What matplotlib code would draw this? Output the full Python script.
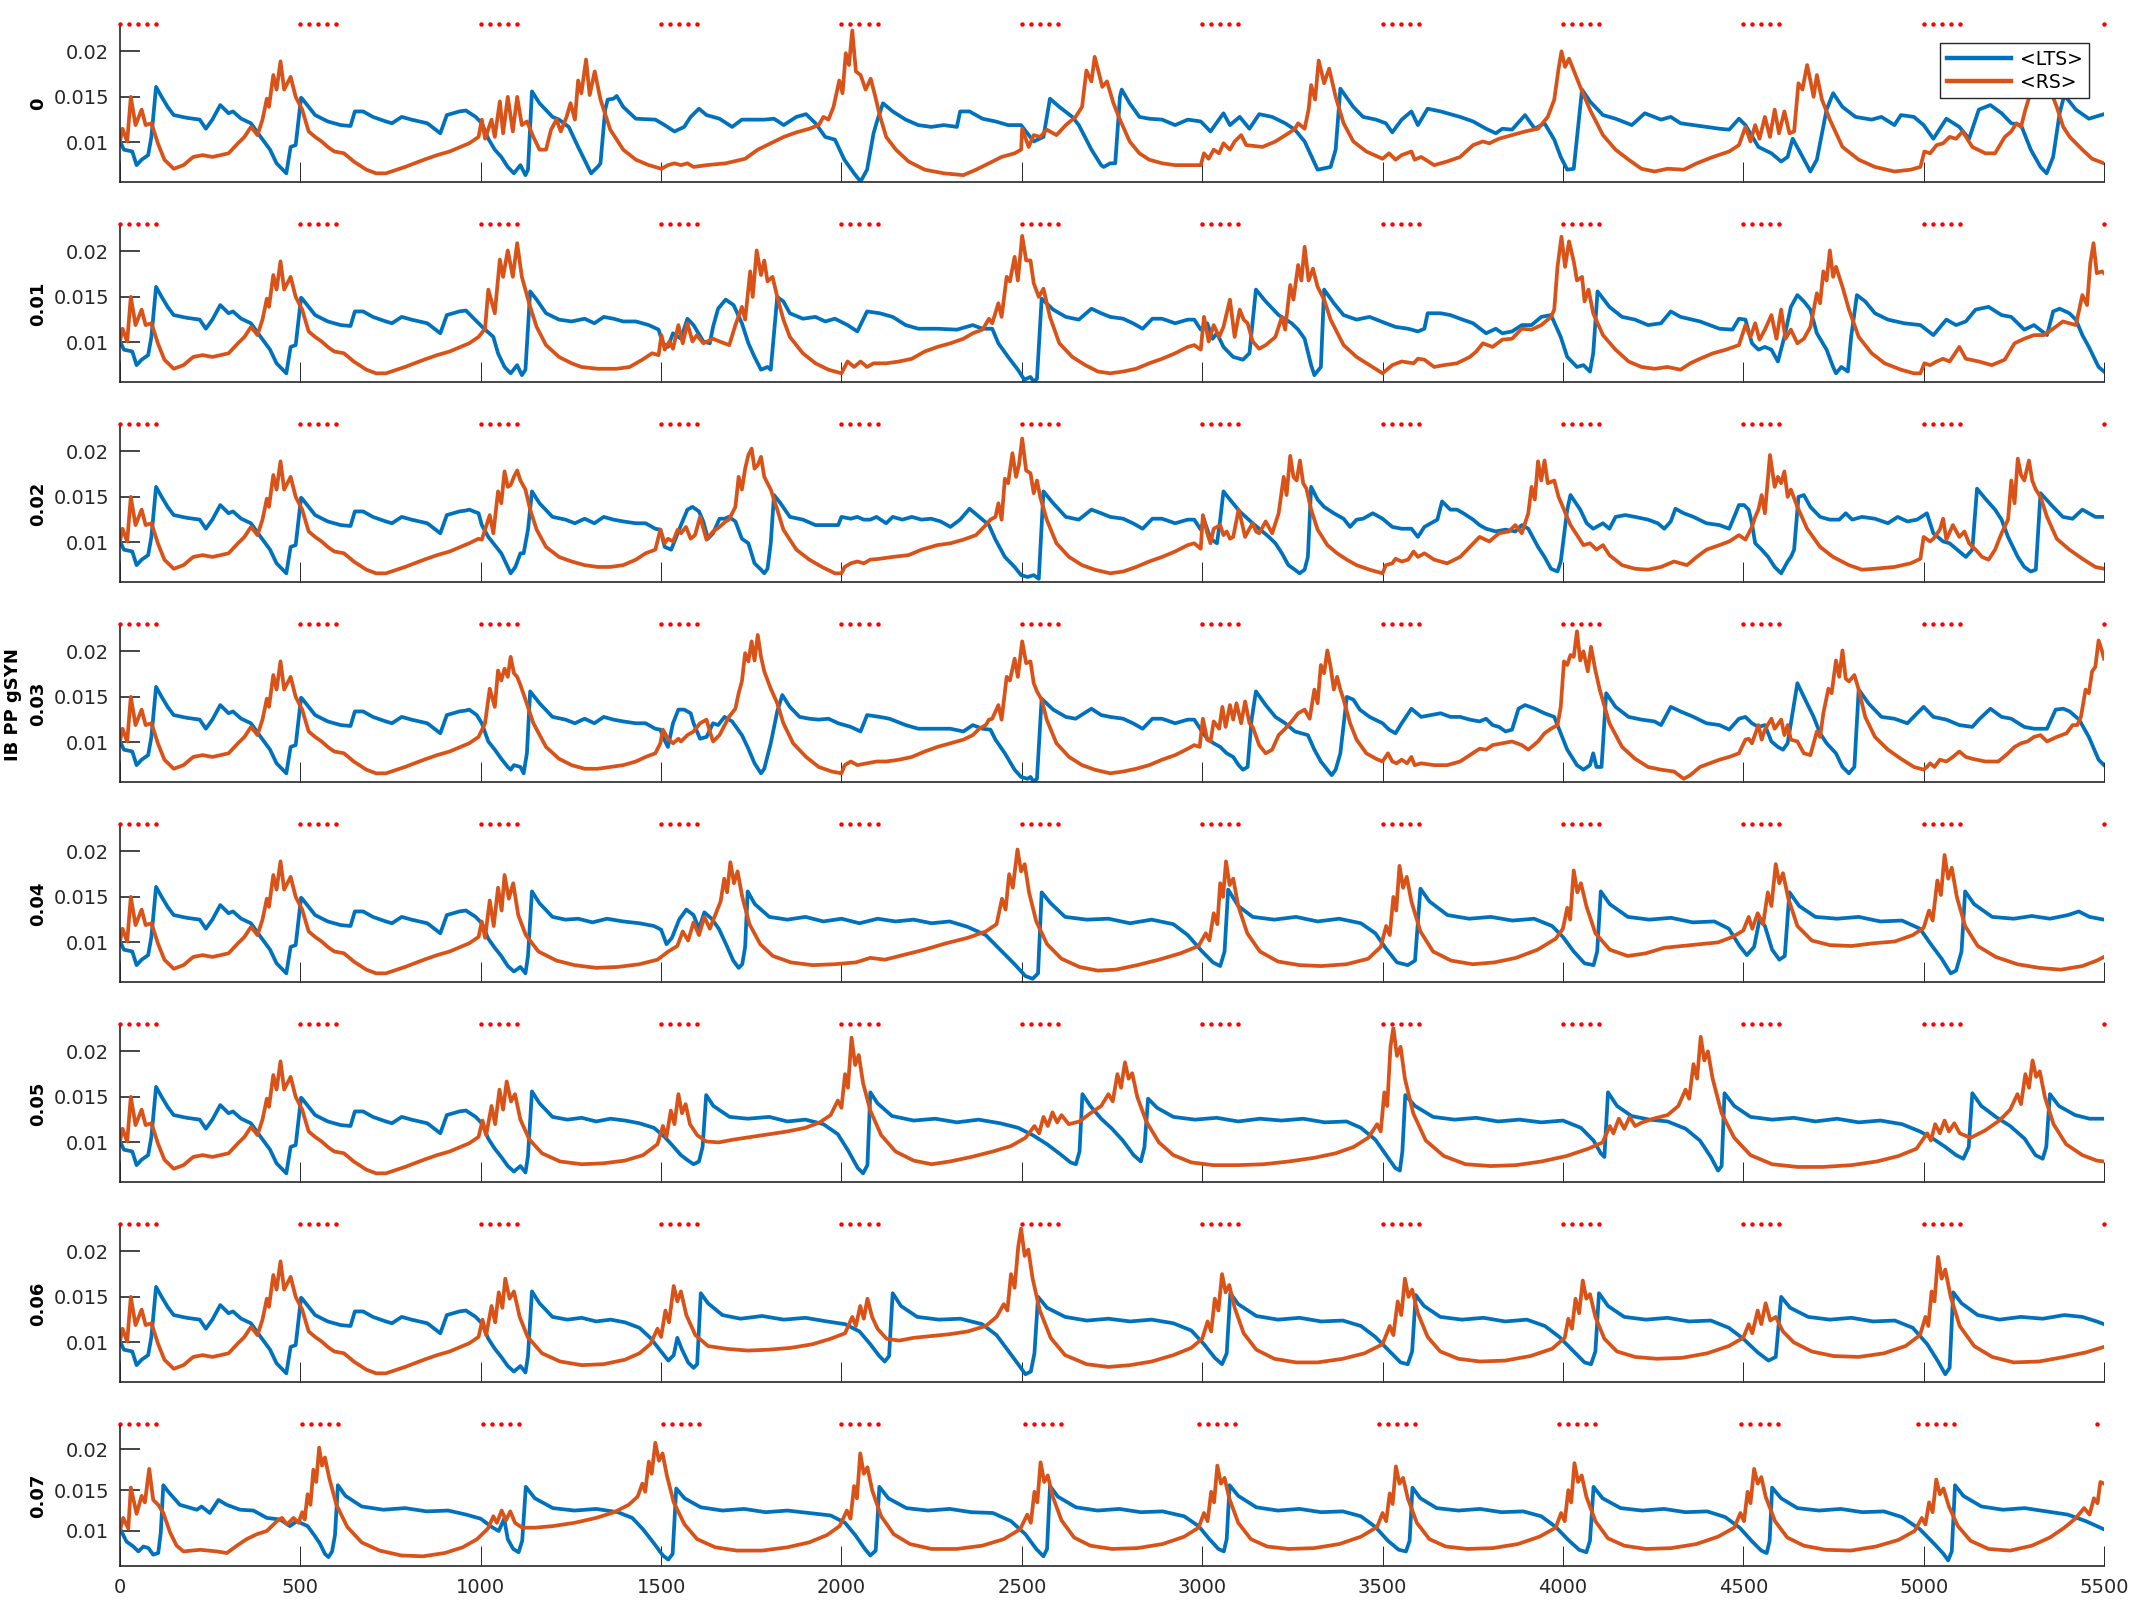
import numpy as np
import matplotlib.pyplot as plt

plt.rcParams['font.family'] = 'DejaVu Sans'

# values are (time in ms, mean gSYN in 1e-3 units)
gsyn_labels = ['0', '0.01', '0.02', '0.03', '0.04', '0.05', '0.06', '0.07']

# first ~960 ms are the same in panels 0 .. 0.06
lts_head = [(0,10.1),(11,9.2),(34,9.0),(46,7.5),(60,8.1),(78,8.6),(87,10.6),(100,16.1),(114,15.1),(132,13.9),
            (149,13.0),(185,12.7),(221,12.5),(238,11.5),(256,12.5),(278,14.1),(301,13.2),(313,13.4),(336,12.6),
            (363,12.1),(390,10.6),(416,9.2),(434,7.7),(461,6.6),(473,9.5),(487,9.7),(502,14.9),(505,14.8),
            (541,13.0),(576,12.3),(612,11.9),(639,11.8),(651,13.4),(674,13.4),(701,12.8),(737,12.3),(754,12.1),
            (781,12.8),(808,12.5),(852,12.1),(888,11.0),(906,13.0),(941,13.4),(959,13.5)]
rs_head = [(0,10.1),(7,11.5),(20,10.1),(30,15.0),(43,11.9),(60,13.6),(71,11.9),(87,12.1),(105,9.9),(123,8.1),
           (149,7.1),(176,7.5),(203,8.4),(229,8.6),(256,8.4),(301,8.8),(327,9.9),(345,10.6),(363,11.7),(381,10.8),
           (395,12.5),(407,14.8),(413,13.9),(425,17.4),(434,15.8),(445,18.9),(455,15.8),(473,17.2),(487,15.0),
           (505,13.6),(523,11.2),(541,10.6),(559,10.1),(576,9.5),(594,9.0),(621,8.8),(648,7.9),(683,7.0),
           (710,6.6),(737,6.6),(790,7.3),(843,8.1),(879,8.6),(914,9.0),(968,9.9)]

lts_tail_0 = [(986,12.8),(1003,12.1),(1021,10.4),(1039,9.2),(1057,8.4),(1075,7.3),(1092,6.6),(1110,7.5),(1124,6.4),
              (1131,7.0),(1142,15.6),(1163,14.3),(1199,12.8),(1217,12.5),(1244,11.7),(1270,9.5),(1306,6.6),(1324,7.3),
              (1332,7.7),(1345,13.6),(1352,14.7),(1368,14.8),(1377,15.1),(1395,13.9),(1430,12.6),(1484,12.5),
              (1510,11.9),(1537,11.2),(1564,11.7),(1582,12.8),(1605,13.7),(1626,13.0),(1662,12.6),(1697,11.7),
              (1724,12.5),(1751,12.5),(1786,12.5),(1813,12.6),(1840,11.9),(1875,12.8),(1902,13.1),(1928,12.1),
              (1955,10.6),(1982,10.3),(2008,8.1),(2035,6.6),(2053,5.7),(2071,7.0),(2089,11.0),(2097,12.1),
              (2115,14.3),(2142,13.4),(2178,12.5),(2213,11.9),(2249,11.7),(2284,11.9),(2320,11.7),(2329,13.4),
              (2355,13.4),(2391,12.6),(2427,12.3),(2462,11.9),(2498,11.9),(2533,10.1),(2560,10.6),(2578,14.8),
              (2604,13.9),(2640,12.8),(2658,11.9),(2693,9.2),(2720,7.5),(2727,7.3),(2745,7.7),(2759,7.7),(2772,15.0),
              (2777,15.8),(2799,14.3),(2826,12.8),(2853,12.6),(2889,12.5),(2925,11.9),(2960,12.5),(2996,12.3),
              (3023,11.2),(3059,13.2),(3077,11.9),(3104,12.8),(3131,11.5),(3158,13.1),(3194,12.8),(3230,12.1),
              (3257,11.4),(3284,10.1),(3320,7.0),(3356,7.3),(3370,9.2),(3383,15.9),(3419,13.9),(3446,12.8),
              (3482,12.5),(3509,12.1),(3527,11.1),(3553,12.5),(3580,13.4),(3598,11.9),(3625,13.7),(3661,13.4),
              (3715,12.8),(3751,12.3),(3787,11.5),(3814,11.0),(3832,11.5),(3859,11.4),(3895,13.0),(3922,11.5),
              (3949,12.1),(3976,10.3),(3994,8.4),(4012,7.0),(4030,7.1),(4053,15.8),(4075,14.5),(4111,13.0),
              (4146,12.6),(4191,11.9),(4227,13.2),(4272,12.5),(4299,12.8),(4326,12.1),(4362,11.9),(4398,11.7),
              (4434,11.5),(4461,11.4),(4488,12.6),(4506,11.9),(4542,9.5),(4578,8.8),(4605,7.9),(4623,8.4),
              (4637,10.4),(4659,8.8),(4686,6.8),(4704,8.1),(4731,13.6),(4749,15.4),(4775,13.9),(4811,12.8),
              (4856,12.5),(4883,12.8),(4919,11.9),(4937,13.0),(4973,12.8),(5000,11.9),(5027,10.4),(5063,12.6),
              (5099,11.7),(5126,10.4),(5153,13.6),(5185,14.1),(5216,13.2),(5243,12.1),(5270,11.9),(5297,9.2),
              (5324,7.3),(5341,6.6),(5359,8.4),(5377,13.2),(5390,15.2),(5422,13.6),(5458,12.6),(5500,13.1)]
rs_tail_0 = [(994,10.6),(1003,12.5),(1012,10.4),(1030,12.5),(1039,10.6),(1053,14.5),(1062,11.0),(1075,15.0),
             (1089,11.2),(1101,15.0),(1114,11.9),(1128,12.3),(1146,10.6),(1163,9.2),(1181,9.2),(1195,11.4),
             (1210,12.5),(1222,11.2),(1238,12.8),(1249,14.3),(1261,12.5),(1270,16.8),(1279,15.4),(1292,19.1),
             (1302,15.2),(1316,17.8),(1332,14.7),(1359,11.4),(1395,9.2),(1430,8.1),(1466,7.5),(1501,7.1),(1519,7.5),
             (1537,7.7),(1555,7.5),(1573,7.7),(1590,7.3),(1626,7.5),(1679,7.7),(1733,8.2),(1768,9.2),(1804,9.9),
             (1840,10.6),(1875,11.1),(1911,11.5),(1937,11.9),(1950,12.8),(1964,12.5),(1978,13.9),(1994,16.8),
             (2003,15.4),(2012,19.8),(2021,18.5),(2030,22.3),(2040,17.8),(2053,17.4),(2067,15.8),(2081,17.0),
             (2094,15.0),(2106,13.0),(2124,10.6),(2151,9.2),(2186,7.9),(2231,7.0),(2284,6.6),(2338,6.4),(2373,7.0),
             (2409,7.7),(2444,8.4),(2480,8.8),(2498,9.2),(2501,11.5),(2519,9.5),(2533,10.8),(2551,10.6),
             (2569,11.4),(2596,10.8),(2622,11.9),(2649,12.8),(2667,13.9),(2679,17.9),(2693,16.7),(2702,19.4),
             (2715,17.4),(2723,16.1),(2736,16.7),(2754,14.3),(2772,12.5),(2799,10.1),(2826,8.8),(2853,8.1),
             (2889,7.7),(2925,7.5),(2978,7.5),(2996,7.5),(3005,8.8),(3018,8.2),(3032,9.2),(3047,8.8),(3059,9.9),
             (3077,9.2),(3090,10.1),(3108,10.8),(3122,9.7),(3167,9.5),(3203,10.1),(3239,11.0),(3257,11.5),
             (3266,12.1),(3284,11.5),(3295,13.6),(3302,16.3),(3313,14.7),(3323,19.0),(3338,16.5),(3352,18.1),
             (3370,15.0),(3392,12.1),(3419,10.1),(3455,9.0),(3500,8.2),(3518,8.8),(3536,8.1),(3553,8.6),(3580,9.0),
             (3589,8.1),(3607,8.4),(3643,7.5),(3679,7.9),(3715,8.4),(3751,9.7),(3778,10.1),(3796,9.9),(3823,10.4),
             (3859,10.8),(3895,11.2),(3931,11.5),(3958,12.8),(3976,14.7),(3988,18.1),(3996,20.0),(4006,18.3),
             (4017,19.2),(4030,17.9),(4048,16.1),(4075,13.6),(4111,10.8),(4146,9.2),(4182,8.1),(4218,7.1),
             (4254,6.8),(4290,7.1),(4335,7.0),(4371,7.7),(4416,8.4),(4461,9.0),(4488,9.7),(4506,11.7),(4520,10.1),
             (4533,11.9),(4545,10.4),(4560,12.8),(4574,10.6),(4587,13.6),(4599,11.0),(4614,13.4),(4628,11.0),
             (4641,11.2),(4653,16.5),(4664,15.8),(4677,18.5),(4686,16.8),(4695,15.0),(4704,17.4),(4718,14.7),
             (4740,12.5),(4775,9.5),(4820,8.1),(4865,7.3),(4919,6.8),(4964,7.0),(4991,7.3),(5002,9.0),(5018,8.8),
             (5036,9.7),(5054,9.9),(5072,10.6),(5090,10.4),(5108,11.2),(5135,9.5),(5171,8.8),(5198,8.8),
             (5225,10.6),(5243,11.2),(5257,12.1),(5270,11.7),(5282,13.6),(5297,15.5),(5315,17.6),(5330,15.8),
             (5342,16.7),(5369,13.9),(5387,11.7),(5405,10.6),(5440,9.2),(5467,8.2),(5500,7.7)]

lts_tail_1 = [(994,12.1),(1012,11.4),(1021,11.1),(1035,10.6),(1048,8.8),(1066,7.3),(1083,6.6),(1101,7.5),(1114,6.4),
              (1124,7.0),(1137,15.6),(1155,14.7),(1181,13.2),(1217,12.5),(1252,12.3),(1288,12.6),(1315,12.1),
              (1341,12.8),(1368,12.6),(1395,12.3),(1430,12.3),(1466,11.9),(1493,11.4),(1505,9.9),(1519,9.5),
              (1533,11.0),(1555,10.4),(1573,12.6),(1590,11.9),(1617,10.1),(1635,9.9),(1644,11.7),(1658,13.7),
              (1679,14.7),(1701,14.1),(1724,12.1),(1742,9.9),(1759,8.4),(1777,7.0),(1795,7.3),(1804,7.0),(1822,15.0),
              (1839,14.5),(1857,13.2),(1893,12.6),(1928,12.8),(1955,12.3),(1982,12.6),(2017,11.9),(2044,11.2),
              (2071,13.4),(2106,13.2),(2142,12.8),(2178,11.9),(2213,11.5),(2266,11.5),(2320,11.4),(2364,11.9),
              (2391,11.5),(2418,11.5),(2435,9.9),(2462,8.4),(2489,7.0),(2507,5.9),(2524,6.2),(2533,5.7),(2542,6.0),
              (2555,14.8),(2587,13.6),(2622,12.8),(2658,12.5),(2693,13.7),(2720,13.2),(2745,12.8),(2781,12.6),
              (2808,12.1),(2835,11.5),(2862,12.6),(2889,12.6),(2925,12.1),(2960,12.5),(2978,12.5),(2996,11.4),
              (3014,12.1),(3029,10.4),(3041,11.0),(3059,9.5),(3086,8.4),(3113,8.1),(3131,8.8),(3149,15.8),
              (3176,14.5),(3212,13.0),(3248,12.1),(3266,11.4),(3284,10.4),(3302,7.5),(3311,6.4),(3329,7.3),
              (3338,15.8),(3365,14.3),(3392,13.0),(3428,12.5),(3464,12.8),(3509,12.1),(3536,11.7),(3571,11.5),
              (3598,11.2),(3616,11.5),(3625,13.2),(3661,13.2),(3688,13.0),(3715,12.6),(3751,12.1),(3787,11.0),
              (3814,11.5),(3832,11.0),(3859,11.2),(3886,11.9),(3913,11.9),(3940,12.8),(3967,13.0),(3994,10.6),
              (4012,8.4),(4039,7.3),(4057,7.5),(4075,6.8),(4084,8.8),(4096,15.6),(4129,13.9),(4164,12.8),
              (4200,12.5),(4236,11.9),(4272,12.1),(4299,13.4),(4326,12.8),(4380,12.3),(4434,11.5),(4470,11.4),
              (4488,12.6),(4506,12.5),(4524,9.9),(4542,9.2),(4560,9.5),(4578,9.2),(4596,7.9),(4614,10.6),
              (4632,13.9),(4650,15.2),(4668,14.5),(4686,13.6),(4704,11.0),(4731,9.2),(4749,7.3),(4757,6.6),
              (4772,7.3),(4790,6.8),(4799,10.6),(4815,15.2),(4838,14.5),(4865,13.2),(4901,12.5),(4946,12.1),
              (4991,11.9),(5027,10.8),(5063,12.5),(5090,11.9),(5117,12.3),(5144,13.6),(5180,13.9),(5216,13.0),
              (5243,12.8),(5279,11.4),(5306,11.9),(5342,10.8),(5359,13.4),(5377,13.7),(5404,13.2),(5422,12.5),
              (5440,10.8),(5458,9.5),(5485,7.3),(5500,6.8)]
rs_tail_1 = [(994,10.6),(1012,11.5),(1021,15.8),(1039,13.2),(1053,19.1),(1062,17.2),(1075,20.1),(1089,17.2),
             (1101,20.9),(1114,17.2),(1137,13.9),(1155,11.7),(1181,9.7),(1217,8.4),(1252,7.7),(1279,7.3),(1324,7.1),
             (1377,7.1),(1413,7.3),(1448,8.1),(1475,8.8),(1493,8.6),(1501,10.8),(1510,9.2),(1523,10.1),(1533,9.3),
             (1548,11.9),(1560,9.9),(1573,12.1),(1587,10.1),(1599,10.8),(1617,9.9),(1644,10.4),(1662,10.1),
             (1689,9.7),(1706,11.9),(1724,13.9),(1733,12.5),(1747,17.8),(1754,15.0),(1765,20.1),(1777,17.4),
             (1786,19.0),(1795,16.7),(1809,17.2),(1822,15.0),(1839,12.5),(1857,10.6),(1893,8.8),(1928,7.7),
             (1964,7.0),(2000,6.6),(2009,7.3),(2017,7.9),(2035,7.3),(2053,7.9),(2071,7.3),(2089,7.7),(2124,7.7),
             (2160,7.9),(2195,8.2),(2231,9.0),(2266,9.5),(2302,9.9),(2338,10.4),(2364,11.0),(2391,11.4),
             (2409,12.6),(2418,12.1),(2435,14.3),(2444,12.8),(2458,17.2),(2467,16.7),(2480,19.4),(2489,16.8),
             (2501,21.7),(2512,19.0),(2524,19.0),(2533,16.5),(2547,15.0),(2560,15.9),(2578,12.8),(2604,9.9),
             (2640,8.4),(2676,7.5),(2711,6.8),(2745,6.6),(2781,6.8),(2817,7.1),(2853,7.7),(2889,8.2),(2925,8.8),
             (2960,9.5),(2978,9.7),(2996,9.2),(3005,12.8),(3018,10.1),(3032,11.9),(3047,10.6),(3059,11.7),
             (3077,14.7),(3090,10.6),(3104,13.6),(3115,12.5),(3126,12.1),(3140,10.1),(3158,9.3),(3176,9.7),
             (3203,10.6),(3221,12.8),(3230,11.4),(3244,16.3),(3253,14.7),(3266,18.5),(3275,16.8),(3284,20.5),
             (3295,16.8),(3307,18.1),(3320,16.1),(3338,14.7),(3356,12.5),(3392,9.7),(3428,8.4),(3464,7.5),
             (3500,6.6),(3527,7.5),(3553,7.9),(3586,7.7),(3598,8.2),(3616,8.1),(3643,7.3),(3670,7.5),(3706,7.7),
             (3742,8.4),(3760,9.0),(3778,9.9),(3805,9.5),(3832,10.3),(3859,10.4),(3886,11.5),(3913,11.4),
             (3940,11.9),(3967,12.8),(3976,13.6),(3985,18.3),(3996,21.6),(4006,18.3),(4017,21.1),(4030,18.9),
             (4039,16.8),(4053,17.2),(4060,14.5),(4071,15.8),(4084,13.2),(4111,10.8),(4146,9.2),(4182,7.9),
             (4218,7.3),(4254,7.1),(4290,7.3),(4326,7.0),(4353,7.7),(4380,8.2),(4416,8.8),(4452,9.2),(4488,9.7),
             (4506,11.9),(4520,10.6),(4533,12.1),(4545,10.3),(4560,11.4),(4578,13.0),(4592,10.4),(4605,13.6),
             (4617,10.4),(4632,11.4),(4650,9.9),(4668,10.4),(4686,11.7),(4704,15.4),(4713,14.3),(4722,17.8),
             (4731,16.8),(4740,20.1),(4749,17.2),(4757,18.3),(4766,17.2),(4775,16.1),(4793,13.6),(4820,10.6),
             (4856,8.8),(4892,7.7),(4937,7.0),(4973,6.6),(4991,6.6),(5002,7.7),(5018,7.5),(5036,7.9),(5054,8.2),
             (5072,7.9),(5099,9.5),(5117,8.2),(5153,7.9),(5189,7.5),(5225,8.1),(5252,9.9),(5279,10.4),(5306,10.8),
             (5333,10.8),(5359,11.5),(5386,12.3),(5404,12.1),(5422,11.9),(5440,15.2),(5453,14.1),(5462,18.7),
             (5471,20.9),(5480,17.6),(5494,17.8),(5500,17.6)]

lts_tail_2 = [(968,13.6),(994,13.2),(1003,11.9),(1021,10.6),(1039,9.7),(1057,8.8),(1075,7.3),(1083,6.6),(1096,7.3),
              (1110,8.8),(1119,8.8),(1131,11.4),(1142,15.6),(1163,14.3),(1199,12.8),(1235,12.5),(1261,12.1),
              (1288,12.6),(1315,12.1),(1341,12.8),(1368,12.5),(1395,12.3),(1430,12.1),(1457,12.1),(1484,11.5),
              (1498,11.4),(1510,9.5),(1528,9.2),(1537,10.1),(1555,11.9),(1573,13.6),(1587,13.9),(1605,13.4),
              (1617,12.3),(1630,10.4),(1644,11.0),(1662,12.6),(1676,12.6),(1688,12.8),(1706,12.3),(1724,10.4),
              (1742,9.9),(1759,7.7),(1777,7.0),(1786,6.6),(1795,7.1),(1804,9.9),(1813,15.2),(1831,14.3),(1857,12.8),
              (1893,12.5),(1928,11.9),(1964,11.9),(1991,11.9),(2000,12.8),(2026,12.6),(2044,12.8),(2062,12.5),
              (2080,12.5),(2097,12.8),(2124,12.1),(2142,12.8),(2169,12.5),(2195,12.8),(2222,12.5),(2249,12.6),
              (2275,12.3),(2302,11.7),(2329,12.5),(2355,13.7),(2382,12.8),(2409,11.9),(2427,10.3),(2453,8.4),
              (2480,7.3),(2498,6.4),(2516,6.2),(2533,6.4),(2547,6.0),(2560,15.6),(2587,14.3),(2622,12.8),(2658,12.5),
              (2693,13.6),(2720,13.2),(2745,12.8),(2781,12.6),(2808,12.1),(2835,11.5),(2862,12.6),(2889,12.6),
              (2925,12.1),(2960,12.5),(2978,12.5),(2996,11.4),(3005,12.5),(3023,10.4),(3041,9.9),(3050,12.5),
              (3059,15.6),(3077,14.7),(3104,13.4),(3140,12.1),(3167,11.2),(3185,10.6),(3203,9.9),(3221,8.8),
              (3239,7.5),(3257,7.0),(3270,6.6),(3284,7.0),(3293,8.4),(3302,16.1),(3320,14.7),(3338,13.9),(3365,13.2),
              (3392,12.6),(3410,11.7),(3428,12.5),(3446,12.6),(3473,13.2),(3500,12.6),(3527,11.7),(3553,11.5),
              (3580,11.5),(3598,10.6),(3616,11.7),(3634,12.1),(3652,12.5),(3665,14.5),(3688,13.6),(3706,13.6),
              (3724,13.2),(3751,12.5),(3769,11.9),(3787,11.5),(3814,11.2),(3841,11.4),(3868,11.2),(3886,11.9),
              (3904,11.5),(3931,9.5),(3949,8.4),(3967,7.1),(3985,6.8),(3994,7.9),(4012,13.6),(4021,15.2),(4048,13.6),
              (4066,12.1),(4084,11.5),(4111,12.1),(4129,11.5),(4146,12.8),(4173,13.0),(4200,12.8),(4236,12.5),
              (4263,12.1),(4281,11.5),(4299,12.3),(4312,13.7),(4335,13.2),(4362,12.8),(4398,12.1),(4434,11.9),
              (4461,11.5),(4479,13.2),(4488,14.1),(4502,14.1),(4515,13.6),(4524,12.1),(4533,9.9),(4551,9.2),
              (4569,8.4),(4587,7.3),(4605,6.6),(4623,7.9),(4632,8.4),(4641,9.2),(4653,15.0),(4668,15.2),(4686,13.9),
              (4713,12.8),(4740,12.5),(4766,12.5),(4784,13.2),(4802,12.5),(4829,12.8),(4865,12.6),(4901,12.1),
              (4928,12.8),(4955,12.3),(4982,12.5),(5009,13.2),(5027,11.0),(5054,10.1),(5072,9.9),(5090,9.3),
              (5117,8.4),(5135,9.2),(5148,15.9),(5171,14.8),(5198,13.6),(5216,12.5),(5234,10.6),(5261,8.4),
              (5279,7.3),(5297,6.8),(5311,7.0),(5324,15.4),(5359,13.9),(5386,12.8),(5413,12.6),(5440,13.6),
              (5476,12.8),(5500,12.8)]
rs_tail_2 = [(994,10.4),(1003,10.3),(1025,13.0),(1035,11.0),(1048,15.6),(1057,14.3),(1066,17.8),(1075,16.1),
             (1083,16.3),(1092,17.2),(1101,17.9),(1110,16.8),(1124,15.8),(1137,13.6),(1155,11.4),(1181,9.5),
             (1217,8.4),(1252,7.9),(1288,7.5),(1324,7.3),(1359,7.3),(1395,7.5),(1430,8.1),(1457,8.8),(1484,9.2),
             (1498,11.4),(1510,9.9),(1519,10.4),(1533,10.1),(1546,11.4),(1555,11.0),(1569,11.7),(1582,10.4),
             (1594,10.8),(1608,12.8),(1626,10.3),(1644,11.2),(1662,11.7),(1679,12.3),(1688,12.5),(1706,13.9),
             (1715,17.2),(1724,15.8),(1733,18.1),(1742,19.6),(1751,20.3),(1759,18.1),(1768,18.5),(1777,19.4),
             (1786,17.2),(1804,15.8),(1822,13.6),(1839,11.4),(1875,9.2),(1911,8.1),(1946,7.3),(1982,6.6),
             (2000,6.6),(2009,7.3),(2026,7.7),(2044,7.9),(2062,7.7),(2080,8.1),(2106,8.2),(2142,8.4),(2186,8.6),
             (2222,9.2),(2266,9.7),(2302,9.9),(2338,10.3),(2373,10.8),(2400,11.9),(2413,12.5),(2427,12.8),
             (2435,14.3),(2444,12.5),(2453,17.0),(2462,16.5),(2474,19.8),(2484,17.2),(2492,18.5),(2501,21.4),
             (2512,17.9),(2524,17.6),(2533,15.4),(2542,16.8),(2551,15.0),(2569,12.5),(2596,9.9),(2631,8.4),
             (2667,7.5),(2702,7.0),(2745,6.6),(2781,6.8),(2817,7.3),(2853,7.9),(2889,8.4),(2925,9.0),(2960,9.7),
             (2978,9.9),(2996,9.3),(3002,13.0),(3014,11.0),(3023,9.9),(3032,11.5),(3050,11.9),(3059,10.8),
             (3068,11.2),(3077,10.4),(3086,10.6),(3101,13.6),(3108,12.5),(3119,10.6),(3131,11.5),(3140,12.1),
             (3149,11.2),(3158,11.0),(3176,12.3),(3194,11.0),(3212,13.2),(3226,17.2),(3234,15.2),(3244,19.5),
             (3253,17.2),(3262,16.8),(3271,19.0),(3280,16.5),(3289,15.9),(3302,13.6),(3320,11.4),(3347,9.7),
             (3374,8.8),(3401,8.1),(3428,7.5),(3464,7.0),(3500,6.6),(3509,7.5),(3527,7.7),(3536,8.2),(3553,7.9),
             (3571,8.1),(3586,9.0),(3598,8.4),(3616,8.8),(3643,8.1),(3679,7.7),(3715,8.4),(3742,9.5),(3769,10.6),
             (3796,10.1),(3823,11.0),(3850,11.2),(3868,11.9),(3886,11.0),(3904,13.2),(3913,16.1),(3922,14.7),
             (3931,18.9),(3940,16.8),(3949,19.0),(3958,16.5),(3976,16.8),(3988,15.0),(4003,13.6),(4021,11.9),
             (4039,10.8),(4057,9.7),(4075,9.9),(4093,9.2),(4111,9.7),(4129,8.6),(4164,7.5),(4200,7.1),(4236,7.0),
             (4272,7.3),(4308,7.9),(4326,7.7),(4344,7.5),(4371,8.4),(4398,9.2),(4434,9.7),(4461,10.1),(4488,10.8),
             (4506,10.3),(4524,11.7),(4533,12.8),(4542,13.6),(4551,15.2),(4560,13.2),(4574,19.6),(4587,16.1),
             (4596,17.2),(4605,16.5),(4614,17.8),(4623,15.0),(4632,15.8),(4650,13.9),(4677,11.5),(4713,9.5),
             (4749,8.4),(4793,7.5),(4829,7.0),(4865,7.1),(4919,7.3),(4964,7.7),(4991,8.2),(5000,10.6),(5018,10.1),
             (5027,10.4),(5045,11.4),(5054,12.6),(5063,10.3),(5081,11.9),(5099,10.6),(5113,11.2),(5126,9.9),
             (5144,9.2),(5162,8.4),(5180,8.1),(5198,9.2),(5216,11.0),(5234,12.5),(5243,16.8),(5252,14.3),
             (5261,19.2),(5270,17.4),(5279,16.8),(5292,19.0),(5301,16.8),(5311,15.8),(5324,15.0),(5342,12.8),
             (5369,10.4),(5404,9.2),(5440,8.2),(5476,7.3),(5500,7.1)]

lts_tail_3 = [(968,13.6),(989,13.0),(1003,12.1),(1021,10.1),(1039,9.2),(1057,8.2),(1075,7.3),(1083,7.0),(1092,7.5),
              (1110,7.3),(1119,6.6),(1128,8.8),(1137,15.6),(1163,14.3),(1199,12.8),(1235,12.5),(1261,12.1),
              (1288,12.6),(1315,12.1),(1341,12.8),(1368,12.5),(1395,12.3),(1430,12.1),(1457,12.1),(1484,11.5),
              (1498,11.4),(1505,10.6),(1519,9.5),(1533,12.1),(1548,13.6),(1564,13.6),(1582,13.2),(1590,12.1),
              (1608,10.4),(1626,10.6),(1644,12.1),(1658,11.9),(1676,12.8),(1697,12.3),(1724,10.8),(1742,9.3),
              (1759,7.7),(1777,6.6),(1786,7.1),(1804,9.9),(1822,13.4),(1836,15.2),(1857,13.9),(1884,12.8),
              (1911,12.6),(1937,12.5),(1964,12.6),(1991,12.1),(2026,11.7),(2053,11.2),(2071,13.0),(2106,12.8),
              (2133,12.6),(2178,11.9),(2213,11.5),(2258,11.5),(2302,11.5),(2338,11.2),(2364,11.9),(2391,11.5),
              (2413,11.4),(2427,10.3),(2453,8.8),(2480,7.0),(2498,6.2),(2516,6.0),(2524,6.2),(2533,5.7),(2542,6.0),
              (2555,14.8),(2587,13.6),(2622,12.8),(2649,12.6),(2693,13.7),(2720,13.0),(2745,12.8),(2781,12.6),
              (2808,12.1),(2835,11.5),(2862,12.6),(2889,12.6),(2925,12.1),(2960,12.5),(2978,12.5),(2996,11.4),
              (3014,10.4),(3032,9.9),(3050,9.5),(3068,8.8),(3086,8.4),(3101,7.5),(3113,7.0),(3126,7.3),(3137,12.5),
              (3149,15.6),(3176,14.1),(3203,12.8),(3230,12.1),(3257,11.2),(3275,11.0),(3293,10.8),(3311,9.2),
              (3329,7.9),(3347,7.0),(3359,6.4),(3370,7.0),(3383,8.8),(3401,15.0),(3419,14.7),(3437,13.6),
              (3464,12.8),(3500,12.1),(3518,11.4),(3536,11.0),(3553,12.1),(3580,13.7),(3607,12.8),(3634,13.0),
              (3661,13.2),(3688,12.8),(3715,12.8),(3742,12.5),(3769,12.3),(3787,12.6),(3805,11.9),(3823,11.7),
              (3841,11.2),(3859,11.4),(3877,13.7),(3895,14.1),(3922,13.7),(3949,13.2),(3976,12.8),(3994,11.0),
              (4012,9.2),(4039,7.5),(4057,7.0),(4075,7.5),(4084,8.8),(4093,7.3),(4107,7.3),(4120,15.4),(4146,13.9),
              (4182,12.8),(4218,12.5),(4254,12.3),(4272,11.9),(4299,13.9),(4326,13.4),(4362,12.8),(4398,12.1),
              (4434,11.9),(4461,11.4),(4488,12.6),(4506,12.8),(4524,12.1),(4542,11.7),(4560,11.9),(4578,10.1),
              (4596,9.5),(4610,9.2),(4623,9.9),(4635,12.8),(4650,16.5),(4668,15.0),(4695,12.8),(4713,11.0),
              (4731,9.9),(4757,8.8),(4775,7.3),(4793,6.6),(4808,7.3),(4820,15.8),(4847,14.3),(4883,12.8),
              (4919,12.6),(4955,12.1),(4982,13.2),(5000,13.9),(5027,12.8),(5063,12.5),(5099,11.9),(5135,11.7),
              (5153,12.5),(5185,13.7),(5216,12.8),(5243,12.6),(5279,11.7),(5306,11.5),(5342,11.5),(5366,13.6),
              (5387,13.7),(5405,13.4),(5431,12.5),(5458,10.6),(5485,8.1),(5500,7.5)]
rs_tail_3 = [(994,10.6),(1012,12.1),(1025,15.9),(1039,13.9),(1048,17.9),(1057,16.8),(1066,18.1),(1075,17.2),
             (1083,19.4),(1092,17.6),(1101,17.2),(1110,16.3),(1124,14.7),(1146,12.1),(1181,9.5),(1217,8.2),
             (1252,7.5),(1288,7.1),(1324,7.1),(1359,7.3),(1395,7.5),(1430,7.9),(1457,8.4),(1484,8.8),(1498,9.9),
             (1505,11.4),(1519,10.4),(1533,9.9),(1548,10.4),(1555,10.1),(1573,10.8),(1590,11.2),(1608,12.1),
             (1626,12.5),(1635,11.2),(1644,10.1),(1662,10.8),(1688,12.8),(1706,13.7),(1715,15.4),(1724,16.7),
             (1733,19.8),(1742,18.9),(1751,21.1),(1759,19.0),(1768,21.8),(1777,19.4),(1786,17.8),(1804,15.9),
             (1822,14.3),(1839,12.1),(1866,9.9),(1902,8.4),(1937,7.3),(1973,6.8),(2000,6.6),(2009,7.5),(2026,7.9),
             (2044,7.5),(2071,7.7),(2097,7.9),(2124,7.9),(2160,8.1),(2195,8.4),(2231,9.0),(2266,9.5),(2302,9.9),
             (2338,10.3),(2364,10.8),(2382,11.5),(2400,11.9),(2409,12.5),(2418,12.6),(2435,14.1),(2444,12.5),
             (2458,17.2),(2467,16.8),(2480,19.2),(2489,17.2),(2501,21.1),(2512,18.7),(2524,18.9),(2533,16.5),
             (2542,15.6),(2555,14.7),(2569,12.5),(2596,9.9),(2631,8.4),(2667,7.5),(2702,7.0),(2745,6.6),(2781,6.8),
             (2817,7.1),(2853,7.5),(2889,8.1),(2925,8.6),(2960,9.3),(2978,9.7),(2993,9.5),(3002,12.6),(3014,10.3),
             (3023,10.1),(3032,12.3),(3047,11.5),(3056,13.9),(3065,11.7),(3077,14.1),(3086,12.5),(3095,14.3),
             (3108,12.1),(3119,14.5),(3131,12.1),(3140,11.7),(3158,9.7),(3176,8.8),(3194,9.2),(3212,10.8),
             (3230,11.5),(3248,12.3),(3266,13.2),(3284,13.6),(3298,12.6),(3311,15.8),(3320,14.3),(3329,18.5),
             (3338,17.6),(3347,20.1),(3356,18.3),(3365,15.8),(3374,17.2),(3383,15.8),(3392,14.7),(3410,12.1),
             (3428,10.3),(3455,8.8),(3482,8.2),(3500,7.9),(3515,8.8),(3527,7.9),(3539,7.7),(3553,8.1),(3568,7.7),
             (3580,8.4),(3589,7.5),(3607,7.7),(3643,7.5),(3679,7.5),(3715,7.9),(3742,8.6),(3769,9.3),(3787,9.2),
             (3805,9.7),(3832,9.9),(3859,10.1),(3886,9.7),(3904,9.2),(3931,10.1),(3949,11.0),(3967,11.5),
             (3985,11.9),(3994,13.9),(4003,18.9),(4012,18.5),(4021,19.6),(4030,19.4),(4039,22.2),(4048,19.0),
             (4057,20.0),(4069,17.8),(4078,20.5),(4089,18.1),(4102,15.8),(4129,12.1),(4164,9.5),(4200,8.2),
             (4236,7.3),(4272,7.0),(4308,6.8),(4335,6.0),(4353,6.4),(4380,7.3),(4407,7.7),(4434,8.1),(4461,8.4),
             (4488,8.8),(4506,10.3),(4515,10.4),(4524,9.9),(4542,11.9),(4551,10.3),(4560,11.4),(4578,12.6),
             (4587,11.5),(4605,12.5),(4614,10.8),(4623,11.9),(4632,10.3),(4650,10.1),(4668,8.8),(4686,8.6),
             (4704,11.2),(4713,10.6),(4722,13.2),(4736,15.9),(4745,15.4),(4757,19.0),(4766,17.2),(4775,20.1),
             (4784,17.0),(4793,16.7),(4808,17.4),(4820,15.8),(4838,12.8),(4865,10.6),(4901,9.2),(4937,8.2),
             (4973,7.3),(5000,7.0),(5009,7.3),(5018,7.7),(5030,7.3),(5045,8.1),(5063,7.9),(5081,8.4),(5099,9.0),
             (5117,8.4),(5135,8.2),(5171,7.9),(5207,7.9),(5234,8.8),(5252,9.5),(5270,9.9),(5288,10.1),(5306,10.6),
             (5324,10.8),(5342,10.1),(5369,10.6),(5396,11.0),(5413,11.9),(5426,11.9),(5436,12.8),(5449,15.8),
             (5458,15.4),(5467,17.8),(5476,18.3),(5485,21.2),(5494,20.1),(5500,19.2)]

lts_tail_4 = [(986,12.8),(1003,12.1),(1021,10.4),(1039,9.4),(1057,8.5),(1075,7.4),(1092,6.8),(1110,7.3),(1124,6.6),
              (1131,8.5),(1142,15.6),(1163,14.3),(1199,12.8),(1235,12.5),(1270,12.6),(1310,12.2),(1350,12.6),
              (1395,12.3),(1440,12.1),(1480,11.8),(1500,11.4),(1515,9.8),(1530,10.5),(1550,12.5),(1570,13.6),
              (1590,13.0),(1605,11.5),(1620,13.3),(1640,12.6),(1660,11.5),(1680,9.8),(1700,8.0),(1715,7.2),
              (1725,7.6),(1733,9.5),(1740,15.6),(1760,14.2),(1800,12.8),(1850,12.5),(1900,12.8),(1950,12.3),
              (2000,12.6),(2050,12.1),(2100,12.6),(2150,12.3),(2200,12.5),(2250,12.1),(2300,12.3),(2350,11.7),
              (2400,10.8),(2440,9.2),(2480,7.6),(2510,6.3),(2530,6.0),(2545,6.6),(2555,15.5),(2580,14.3),
              (2620,12.8),(2680,12.5),(2740,12.6),(2800,12.1),(2860,12.5),(2920,12.0),(2960,10.8),(3000,9.0),
              (3030,7.8),(3050,7.4),(3062,9.0),(3072,15.8),(3100,14.0),(3140,12.8),(3200,12.5),(3260,12.8),
              (3320,12.3),(3380,12.6),(3440,12.1),(3480,11.0),(3510,9.3),(3540,7.8),(3570,7.5),(3590,8.0),
              (3605,15.9),(3630,14.5),(3680,13.0),(3740,12.6),(3800,12.8),(3860,12.4),(3920,12.6),(3970,11.8),
              (4000,10.6),(4030,9.0),(4060,7.7),(4085,7.5),(4095,9.0),(4105,15.6),(4130,14.2),(4180,12.8),
              (4240,12.5),(4300,12.7),(4360,12.2),(4420,12.3),(4460,11.5),(4490,9.6),(4510,8.6),(4530,9.5),
              (4545,12.5),(4560,11.8),(4580,9.2),(4600,8.1),(4615,8.5),(4628,15.5),(4655,14.0),(4700,12.8),
              (4760,12.6),(4820,12.8),(4880,12.3),(4940,12.4),(4990,11.5),(5020,9.8),(5050,8.2),(5075,6.6),
              (5090,6.9),(5105,9.0),(5115,15.6),(5140,14.2),(5190,12.8),(5250,12.6),(5300,12.9),(5350,12.6),
              (5400,13.0),(5430,13.4),(5460,12.8),(5500,12.5)]
rs_tail_4 = [(994,10.6),(1003,12.3),(1012,10.5),(1025,14.6),(1036,11.8),(1048,16.0),(1058,13.5),(1066,17.4),
             (1078,14.8),(1090,16.5),(1104,13.0),(1125,10.8),(1160,9.0),(1210,8.0),(1260,7.5),(1320,7.2),(1380,7.3),
             (1440,7.6),(1490,8.1),(1520,9.0),(1545,9.6),(1560,11.2),(1575,10.2),(1590,12.2),(1605,10.8),
             (1620,12.8),(1635,11.5),(1650,13.0),(1665,14.5),(1675,17.0),(1683,15.5),(1692,18.8),(1702,16.5),
             (1712,17.8),(1725,15.0),(1745,12.0),(1775,9.8),(1810,8.5),(1860,7.8),(1920,7.5),(1980,7.6),(2040,7.8),
             (2080,8.3),(2120,8.1),(2170,8.6),(2230,9.2),(2290,9.9),(2350,10.5),(2400,11.2),(2430,12.0),(2445,14.8),
             (2455,13.6),(2465,17.5),(2475,16.0),(2488,20.2),(2498,17.8),(2508,18.6),(2520,15.5),(2540,12.3),
             (2570,9.8),(2610,8.2),(2660,7.3),(2710,6.9),(2760,7.0),(2820,7.5),(2880,8.1),(2940,8.8),(2990,9.6),
             (3010,11.0),(3020,10.2),(3032,13.2),(3042,12.0),(3050,16.5),(3058,15.0),(3066,18.9),(3076,16.3),
             (3086,17.0),(3100,14.0),(3125,11.0),(3160,9.0),(3210,7.9),(3270,7.5),(3330,7.4),(3400,7.6),(3460,8.2),
             (3495,9.5),(3510,11.8),(3520,10.8),(3530,15.0),(3538,13.5),(3547,18.4),(3557,16.0),(3567,17.2),
             (3580,14.5),(3605,11.2),(3640,9.0),(3690,8.0),(3750,7.6),(3810,7.8),(3870,8.3),(3930,9.2),(3980,10.4),
             (4000,11.5),(4012,13.8),(4020,12.5),(4030,17.9),(4040,15.5),(4050,16.5),(4065,14.0),(4090,11.0),
             (4130,9.2),(4180,8.5),(4230,8.8),(4280,9.4),(4330,9.6),(4380,9.8),(4430,10.0),(4470,10.6),(4500,11.3),
             (4515,12.8),(4525,11.5),(4540,13.2),(4555,12.0),(4568,15.5),(4578,14.0),(4590,18.6),(4600,16.5),
             (4610,17.6),(4625,14.8),(4650,11.8),(4690,10.2),(4740,9.7),(4800,9.6),(4860,9.9),(4920,10.1),
             (4970,10.8),(5000,11.6),(5015,13.5),(5025,12.4),(5038,16.8),(5048,15.2),(5058,19.6),(5068,17.0),
             (5078,18.2),(5092,15.0),(5115,11.8),(5150,9.6),(5200,8.4),(5260,7.6),(5320,7.2),(5380,7.0),(5440,7.4),
             (5480,8.0),(5500,8.4)]

lts_tail_5 = [(986,12.8),(1003,12.1),(1021,10.4),(1039,9.3),(1057,8.4),(1075,7.4),(1092,6.8),(1110,7.4),(1124,6.7),
              (1131,8.5),(1142,15.6),(1163,14.3),(1199,12.8),(1240,12.5),(1280,12.7),(1320,12.3),(1360,12.6),
              (1400,12.4),(1440,12.1),(1480,11.6),(1510,10.6),(1535,9.5),(1555,8.6),(1575,8.0),(1590,7.6),
              (1605,7.9),(1615,9.5),(1625,15.2),(1645,14.0),(1690,12.8),(1740,12.6),(1800,12.8),(1850,12.3),
              (1900,12.5),(1950,12.0),(1990,10.9),(2020,9.0),(2045,7.2),(2060,6.6),(2072,7.5),(2080,15.5),
              (2100,14.3),(2140,12.9),(2200,12.4),(2260,12.6),(2320,12.2),(2380,12.5),(2440,12.1),(2490,11.6),
              (2530,10.8),(2570,9.8),(2610,8.6),(2635,7.8),(2650,7.6),(2660,9.0),(2668,15.3),(2690,14.0),
              (2720,12.6),(2750,11.5),(2780,10.2),(2810,8.6),(2830,7.9),(2840,9.5),(2850,14.8),(2875,13.8),
              (2920,12.8),(2980,12.5),(3040,12.7),(3100,12.3),(3160,12.6),(3220,12.4),(3280,12.6),(3340,12.2),
              (3400,12.3),(3440,11.6),(3480,10.3),(3510,8.6),(3535,7.2),(3548,6.9),(3555,9.0),(3563,15.2),
              (3590,14.0),(3640,12.8),(3700,12.5),(3760,12.7),(3820,12.3),(3880,12.5),(3940,12.2),(4000,12.4),
              (4050,11.6),(4085,10.2),(4105,8.8),(4115,8.4),(4125,15.5),(4150,14.0),(4190,12.9),(4240,12.5),
              (4290,12.3),(4340,11.5),(4380,10.2),(4410,8.4),(4430,6.9),(4440,7.4),(4448,15.4),(4475,14.0),
              (4520,12.8),(4580,12.5),(4640,12.7),(4700,12.3),(4760,12.6),(4820,12.2),(4880,12.4),(4940,12.0),
              (4990,11.2),(5030,10.3),(5060,9.5),(5090,8.6),(5110,8.2),(5125,9.5),(5135,15.4),(5160,14.0),
              (5200,12.8),(5240,11.8),(5280,10.4),(5310,8.6),(5330,8.2),(5340,9.5),(5350,15.3),(5375,14.0),
              (5420,13.0),(5460,12.6),(5500,12.6)]
rs_tail_5 = [(994,10.6),(1005,12.4),(1015,10.8),(1030,14.0),(1040,12.0),(1052,15.8),(1062,13.6),(1072,16.7),
             (1084,14.5),(1095,15.3),(1110,12.5),(1135,10.3),(1170,8.8),(1220,7.9),(1280,7.6),(1340,7.7),(1400,8.0),
             (1450,8.6),(1490,9.8),(1505,11.8),(1515,10.6),(1527,13.5),(1537,12.0),(1548,15.3),(1558,13.2),
             (1568,14.2),(1580,12.0),(1600,10.8),(1625,10.1),(1660,10.0),(1700,10.3),(1750,10.6),(1800,10.9),
             (1850,11.2),(1900,11.6),(1940,12.2),(1970,13.0),(1990,14.6),(2000,13.8),(2010,17.5),(2018,16.0),
             (2028,21.5),(2038,18.5),(2048,19.6),(2060,16.5),(2080,13.5),(2110,10.8),(2150,9.0),(2200,8.0),
             (2250,7.6),(2300,7.9),(2360,8.4),(2420,9.0),(2470,9.6),(2510,10.5),(2535,11.8),(2548,11.0),(2560,12.8),
             (2572,11.8),(2585,13.3),(2598,12.2),(2610,13.0),(2630,12.0),(2660,12.3),(2690,13.2),(2720,14.0),
             (2740,15.3),(2752,14.5),(2765,17.5),(2775,16.0),(2786,18.8),(2796,17.0),(2806,17.6),(2820,15.0),
             (2845,12.3),(2880,10.0),(2920,8.6),(2970,7.8),(3030,7.5),(3100,7.5),(3170,7.6),(3240,7.9),(3310,8.3),
             (3370,8.8),(3420,9.5),(3460,10.5),(3485,12.0),(3495,11.2),(3505,15.5),(3513,14.0),(3522,20.5),
             (3530,22.6),(3540,19.5),(3550,20.5),(3562,17.0),(3585,13.2),(3620,10.2),(3670,8.5),(3730,7.6),
             (3800,7.4),(3870,7.5),(3940,7.9),(4010,8.5),(4070,9.3),(4110,10.0),(4130,11.8),(4140,11.0),(4155,12.6),
             (4170,11.5),(4185,12.8),(4200,11.8),(4220,12.2),(4250,12.6),(4290,13.0),(4320,14.0),(4340,15.8),
             (4350,14.8),(4362,18.6),(4372,17.0),(4382,21.6),(4392,19.0),(4402,20.0),(4415,17.0),(4440,13.2),
             (4475,10.5),(4520,8.6),(4580,7.6),(4650,7.3),(4720,7.3),(4800,7.5),(4870,7.9),(4930,8.5),(4980,9.3),
             (5010,11.0),(5020,10.2),(5032,12.0),(5045,11.0),(5058,12.4),(5070,11.2),(5085,12.1),(5100,11.0),
             (5130,10.5),(5170,11.3),(5210,12.4),(5240,13.6),(5260,15.3),(5270,14.2),(5282,17.5),(5292,16.0),
             (5302,19.0),(5312,17.2),(5322,17.8),(5336,15.0),(5360,12.0),(5395,9.8),(5440,8.6),(5480,8.0),
             (5500,7.9)]

lts_tail_6 = [(986,12.8),(1003,12.1),(1021,10.4),(1039,9.3),(1057,8.4),(1075,7.4),(1092,6.8),(1110,7.4),(1124,6.7),
              (1131,8.5),(1142,15.6),(1163,14.3),(1199,12.8),(1240,12.5),(1280,12.7),(1320,12.3),(1360,12.5),
              (1400,12.2),(1440,11.6),(1470,10.5),(1500,9.0),(1520,8.0),(1535,8.6),(1545,10.5),(1558,9.2),
              (1575,7.8),(1590,7.2),(1600,7.6),(1610,15.4),(1630,14.3),(1670,13.0),(1720,12.6),(1780,12.9),
              (1840,12.5),(1900,12.7),(1960,12.3),(2010,12.0),(2050,11.2),(2080,9.8),(2105,8.5),(2120,7.9),
              (2132,8.5),(2142,15.4),(2165,14.0),(2210,12.8),(2270,12.5),(2330,12.6),(2390,12.0),(2430,10.8),
              (2460,9.2),(2490,7.6),(2510,6.5),(2525,6.8),(2535,8.8),(2545,15.0),(2570,13.8),(2620,12.8),
              (2680,12.4),(2740,12.6),(2800,12.3),(2860,12.5),(2920,12.1),(2970,11.3),(3005,9.8),(3035,8.3),
              (3055,7.6),(3068,8.8),(3078,15.4),(3100,14.2),(3150,12.9),(3210,12.5),(3270,12.7),(3330,12.3),
              (3390,12.4),(3440,11.8),(3480,10.6),(3520,9.0),(3550,7.8),(3570,7.6),(3582,9.0),(3592,15.2),
              (3615,14.0),(3660,12.8),(3720,12.5),(3780,12.7),(3840,12.3),(3900,12.5),(3950,11.8),(3990,10.6),
              (4030,9.0),(4060,7.8),(4078,7.6),(4090,9.0),(4100,15.4),(4125,14.0),(4170,12.8),(4230,12.5),
              (4290,12.7),(4350,12.3),(4410,12.4),(4460,11.6),(4500,10.4),(4540,8.9),(4570,8.0),(4590,8.4),
              (4605,15.0),(4630,13.8),(4680,12.8),(4740,12.5),(4800,12.7),(4860,12.3),(4920,12.4),(4970,11.6),
              (5010,9.8),(5040,7.9),(5060,6.5),(5072,7.2),(5082,15.5),(5105,14.3),(5150,13.0),(5210,12.5),
              (5270,12.8),(5330,12.6),(5390,13.0),(5440,12.8),(5480,12.3),(5500,12.0)]
rs_tail_6 = [(994,10.6),(1005,12.5),(1015,10.8),(1030,14.0),(1040,12.2),(1050,15.5),(1060,13.8),(1068,17.0),
             (1080,14.8),(1092,15.6),(1108,12.8),(1130,10.6),(1170,8.8),(1220,7.9),(1280,7.5),(1340,7.6),(1400,8.1),
             (1440,8.8),(1470,9.8),(1490,11.5),(1500,10.6),(1512,13.5),(1522,12.2),(1535,16.2),(1545,14.5),
             (1555,15.6),(1570,13.0),(1595,10.8),(1630,9.6),(1680,9.3),(1740,9.1),(1800,9.2),(1860,9.4),(1920,9.8),
             (1970,10.4),(2010,11.0),(2030,12.8),(2040,11.8),(2052,14.0),(2062,12.6),(2072,14.8),(2085,12.8),
             (2100,11.5),(2125,10.4),(2160,10.2),(2200,10.5),(2250,10.7),(2300,10.9),(2350,11.2),(2400,11.8),
             (2430,12.8),(2450,14.2),(2460,13.5),(2470,17.5),(2480,16.0),(2490,20.5),(2498,22.5),(2508,19.5),
             (2518,20.2),(2530,17.0),(2550,13.5),(2580,10.5),(2620,8.6),(2680,7.6),(2740,7.3),(2800,7.5),(2860,7.9),
             (2920,8.6),(2970,9.4),(3000,10.4),(3015,12.3),(3025,11.2),(3035,14.8),(3045,13.5),(3055,17.5),
             (3065,15.5),(3075,16.3),(3090,13.8),(3115,11.0),(3150,9.2),(3200,8.2),(3260,7.8),(3320,7.8),(3390,8.2),
             (3450,8.8),(3500,9.8),(3520,11.8),(3530,10.8),(3542,14.5),(3552,13.0),(3562,17.0),(3572,15.0),
             (3582,15.8),(3598,13.2),(3625,10.6),(3660,9.0),(3710,8.2),(3770,7.9),(3840,8.0),(3910,8.5),(3970,9.3),
             (4005,10.5),(4015,12.6),(4025,11.5),(4035,14.8),(4045,13.2),(4055,16.8),(4065,14.8),(4075,15.3),
             (4090,12.8),(4115,10.4),(4150,9.0),(4200,8.4),(4260,8.2),(4330,8.3),(4400,8.8),(4460,9.6),(4500,10.5),
             (4515,12.0),(4525,11.0),(4540,13.5),(4550,12.0),(4562,14.3),(4575,12.4),(4590,12.8),(4610,11.2),
             (4640,10.0),(4690,9.0),(4750,8.5),(4820,8.4),(4890,8.8),(4950,9.6),(4990,10.8),(5005,12.8),(5013,11.8),
             (5022,15.6),(5030,14.5),(5040,19.4),(5050,17.0),(5060,18.0),(5075,15.0),(5100,11.8),(5140,9.6),
             (5190,8.4),(5250,7.8),(5320,7.9),(5390,8.4),(5450,8.9),(5500,9.5)]

lts_7 = [(0,10.3),(18,8.7),(37,8.1),(51,7.5),(65,8.1),(79,7.9),(92,7.1),(106,7.3),(113,9.8),(120,15.6),(134,14.8),
         (166,13.2),(213,12.6),(226,13.0),(249,12.2),(273,13.8),(296,13.2),(333,12.6),(370,12.5),(407,11.6),
         (444,11.4),(471,10.6),(490,11.2),(520,10.6),(540,9.4),(555,8.4),(568,7.2),(578,6.8),(588,7.5),(596,9.5),
         (604,15.6),(625,14.3),(670,13.0),(730,12.6),(790,12.8),(850,12.4),(910,12.5),(960,12.0),(1000,11.5),
         (1030,10.5),(1050,10.0),(1065,11.5),(1075,9.0),(1090,7.8),(1105,7.4),(1115,8.8),(1125,15.4),(1150,14.0),
         (1200,12.8),(1260,12.5),(1320,12.7),(1380,12.3),(1420,11.6),(1450,10.2),(1480,8.5),(1505,7.0),(1520,6.5),
         (1532,7.2),(1542,15.2),(1565,14.0),(1610,12.9),(1670,12.5),(1730,12.7),(1790,12.3),(1850,12.5),
         (1910,12.2),(1970,11.9),(2010,11.0),(2040,9.4),(2065,7.8),(2080,7.0),(2095,7.6),(2105,15.4),(2130,14.0),
         (2180,12.8),(2240,12.5),(2300,12.7),(2360,12.3),(2420,12.2),(2470,11.2),(2510,9.6),(2540,7.8),(2560,6.9),
         (2570,7.8),(2578,15.5),(2600,14.2),(2650,12.9),(2710,12.5),(2770,12.7),(2830,12.3),(2890,12.4),
         (2950,11.8),(2990,10.6),(3020,9.0),(3045,7.8),(3060,7.5),(3068,9.0),(3076,15.6),(3100,14.3),(3150,12.9),
         (3210,12.5),(3270,12.7),(3330,12.3),(3390,12.4),(3440,11.8),(3480,10.5),(3515,8.8),(3545,7.7),
         (3565,7.5),(3575,8.8),(3583,15.3),(3605,14.0),(3650,12.8),(3710,12.5),(3770,12.7),(3830,12.3),
         (3890,12.4),(3940,11.8),(3980,10.5),(4015,8.9),(4045,7.7),(4065,7.4),(4075,8.8),(4085,15.4),(4110,14.0),
         (4160,12.8),(4220,12.5),(4280,12.7),(4340,12.3),(4400,12.4),(4450,11.7),(4490,10.4),(4525,8.7),
         (4550,7.6),(4565,7.3),(4573,8.8),(4580,15.3),(4605,14.0),(4650,12.8),(4710,12.5),(4770,12.7),(4830,12.3),
         (4890,12.4),(4940,11.7),(4990,10.2),(5030,8.4),(5055,7.2),(5068,6.4),(5078,7.5),(5087,15.6),(5110,14.3),
         (5160,13.0),(5220,12.6),(5280,12.8),(5340,12.4),(5400,12.0),(5450,11.2),(5480,10.6),(5500,10.2)]
rs_7 = [(0,10.1),(9,11.6),(23,10.3),(30,15.3),(46,12.1),(60,14.3),(69,13.5),(81,17.6),(92,13.8),(106,13.2),
        (120,12.2),(139,9.8),(157,8.2),(176,7.5),(222,7.7),(268,7.5),(296,7.3),(324,8.2),(351,9.0),(379,9.6),
        (407,10.0),(421,10.6),(435,11.2),(449,11.6),(463,10.8),(481,11.6),(495,11.0),(505,12.3),(512,11.4),
        (520,14.5),(528,13.2),(536,17.5),(544,16.0),(552,20.2),(560,18.0),(568,19.0),(580,16.5),(600,13.2),
        (630,10.5),(670,8.6),(720,7.6),(780,7.0),(840,6.9),(900,7.3),(950,8.0),(990,9.0),(1020,10.3),(1035,11.8),
        (1045,11.0),(1058,12.5),(1070,11.3),(1082,12.4),(1095,11.0),(1115,10.4),(1150,10.4),(1200,10.6),
        (1260,11.0),(1320,11.6),(1370,12.3),(1410,13.2),(1435,14.2),(1448,15.8),(1456,14.8),(1466,18.5),
        (1474,17.0),(1484,20.8),(1494,18.6),(1504,19.5),(1516,16.8),(1535,13.5),(1565,10.8),(1600,9.0),
        (1650,8.0),(1710,7.6),(1780,7.6),(1850,8.0),(1910,8.6),(1960,9.5),(1995,10.6),(2015,12.5),(2025,11.5),
        (2035,15.5),(2043,14.0),(2052,19.5),(2062,17.0),(2072,17.8),(2085,15.0),(2110,11.8),(2145,9.6),
        (2190,8.4),(2250,7.8),(2320,7.8),(2390,8.2),(2450,9.0),(2495,10.2),(2515,12.0),(2525,11.0),(2535,14.8),
        (2543,13.5),(2552,18.4),(2562,16.0),(2572,16.8),(2585,14.3),(2610,11.3),(2645,9.2),(2690,8.2),
        (2750,7.8),(2820,7.9),(2890,8.4),(2950,9.3),(2990,10.4),(3005,12.2),(3015,11.2),(3025,14.8),(3033,13.5),
        (3042,18.0),(3052,15.8),(3062,16.5),(3075,14.0),(3100,11.0),(3135,9.0),(3180,8.1),(3240,7.8),(3310,7.9),
        (3380,8.4),(3440,9.3),(3485,10.5),(3500,12.2),(3510,11.2),(3520,14.6),(3528,13.3),(3537,17.9),
        (3547,15.8),(3557,16.5),(3570,14.0),(3595,11.0),(3630,9.0),(3675,8.1),(3735,7.8),(3805,7.9),(3875,8.4),
        (3935,9.3),(3980,10.4),(3995,12.2),(4005,11.2),(4015,15.0),(4023,13.5),(4032,18.3),(4042,16.0),
        (4052,16.8),(4065,14.2),(4090,11.2),(4125,9.1),(4170,8.2),(4230,7.8),(4300,7.9),(4370,8.4),(4430,9.3),
        (4475,10.4),(4492,12.2),(4502,11.2),(4512,14.8),(4520,13.4),(4530,17.6),(4540,15.8),(4550,16.6),
        (4562,14.2),(4588,11.2),(4622,9.2),(4668,8.2),(4728,7.7),(4798,7.6),(4868,8.1),(4930,8.9),(4975,10.0),
        (4995,11.6),(5005,10.8),(5015,13.5),(5025,12.3),(5035,16.3),(5045,14.5),(5055,15.2),(5070,13.0),
        (5095,10.6),(5130,8.8),(5180,7.8),(5240,7.6),(5300,8.2),(5350,9.2),(5390,10.4),(5420,11.5),(5445,12.8),
        (5460,12.0),(5472,14.0),(5482,13.4),(5490,16.0),(5500,15.8)]

lts_all = [lts_head + lts_tail_0, lts_head + lts_tail_1, lts_head + lts_tail_2, lts_head + lts_tail_3,
           lts_head + lts_tail_4, lts_head + lts_tail_5, lts_head + lts_tail_6, lts_7]
rs_all = [rs_head + rs_tail_0, rs_head + rs_tail_1, rs_head + rs_tail_2, rs_head + rs_tail_3,
          rs_head + rs_tail_4, rs_head + rs_tail_5, rs_head + rs_tail_6, rs_7]

# stimulus pulses (red dots): 5 pulses, 25 ms apart, starting at each onset
pulse_offsets = [0, 25, 50, 75, 100]
stim_onsets = [0, 500, 1000, 1500, 2000, 2500, 3000, 3500, 4000, 4500, 5000, 5500]
stim_onsets_7 = [0, 505, 1005, 1505, 2000, 2510, 2990, 3490, 3990, 4495, 4985, 5480]

blue = '#0072BD'
orange = '#D95319'
W, H = 2133, 1600

fig = plt.figure(figsize=(W / 100, H / 100), dpi=100)

for i in range(8):
    if i < 7:
        bot_px, h_px = 181.7 + 200 * i, 155
        ylim, ydot = (0.00568, 0.02271), 0.02297
        onsets = stim_onsets
    else:
        bot_px, h_px = 1565.7, 139.7
        ylim, ydot = (0.00575, 0.02285), 0.0231
        onsets = stim_onsets_7
    ax = fig.add_axes([120 / W, 1 - bot_px / H, 1984 / W, h_px / H])

    t1, v1 = np.array(lts_all[i]).T
    t2, v2 = np.array(rs_all[i]).T
    ax.plot(t1, v1 * 1e-3, color=blue, lw=2.7, label='<LTS>')
    ax.plot(t2, v2 * 1e-3, color=orange, lw=2.7, label='<RS>')

    dots = [on + d for on in onsets for d in pulse_offsets if on + d <= 5500]
    ax.plot(dots, [ydot] * len(dots), 'o', color='red', ms=3.2, mec='none', clip_on=False)

    ax.set_xlim(0, 5500)
    ax.set_ylim(*ylim)
    ax.set_xticks([0, 500, 1000, 1500, 2000, 2500, 3000, 3500, 4000, 4500, 5000, 5500])
    ax.set_yticks([0.01, 0.015, 0.02])
    ax.set_yticklabels(['0.01', '0.015', '0.02'])
    for s in ['top', 'right']:
        ax.spines[s].set_visible(False)
    for s in ['left', 'bottom']:
        ax.spines[s].set_color('#262626')
        ax.spines[s].set_linewidth(1.2)
    ax.tick_params(axis='x', direction='in', length=14.5, width=0.7, colors='#262626',
                   labelsize=14, pad=9, labelbottom=(i == 7))
    ax.tick_params(axis='y', direction='in', length=14.5, width=1.2, colors='#262626',
                   labelsize=14, pad=8)

    lab = gsyn_labels[i]
    if i == 3:
        lab = 'IB PP gSYN\n' + lab
    ax.set_ylabel(lab, fontsize=13, fontweight='bold', linespacing=1.5)
    ax.yaxis.set_label_coords(-0.0368, 0.5)

    if i == 0:
        leg = ax.legend(loc='upper right', bbox_to_anchor=(0.9926, 0.893), borderaxespad=0,
                        fontsize=13.5, handlelength=3.4, borderpad=0.35, labelspacing=0.2,
                        handletextpad=0.5, fancybox=False, framealpha=1, edgecolor='#262626')
        leg.get_frame().set_linewidth(1.0)
        for line in leg.get_lines():
            line.set_linewidth(3.2)

fig.savefig('out.png', dpi=100)
